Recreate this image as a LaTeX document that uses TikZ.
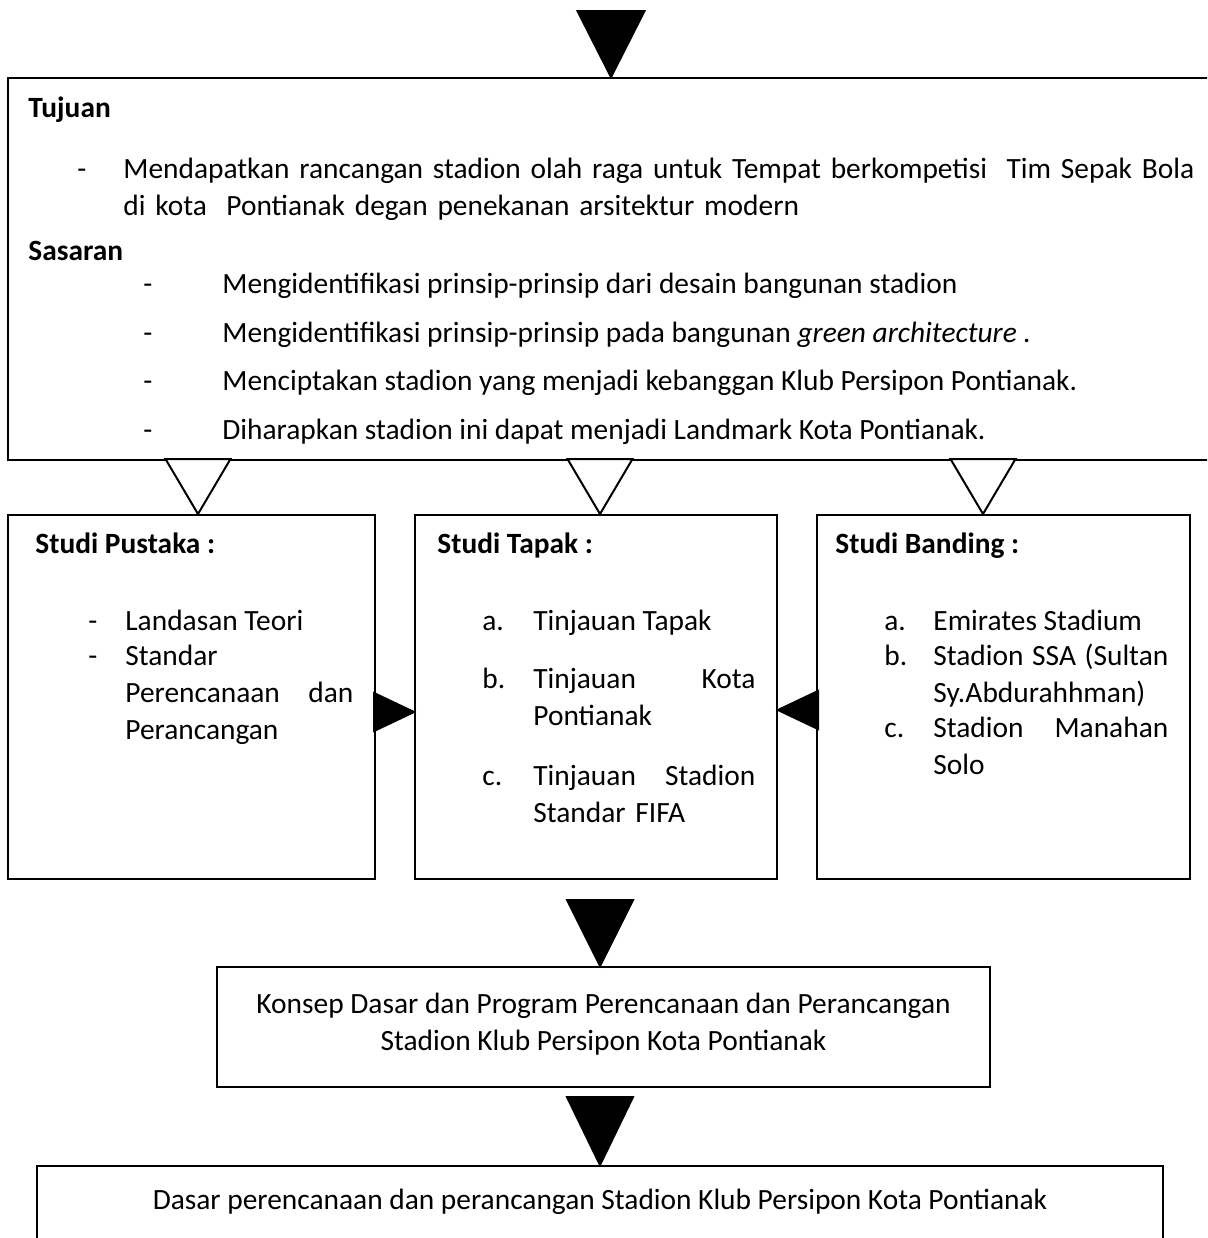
\documentclass[tikz,border=0pt]{standalone}
\usepackage{fontspec}
\setmainfont{Carlito}
\usetikzlibrary{positioning,fit,calc}
\newcommand{\bodyfont}{\fontsize{14.7pt}{18.5pt}\selectfont}
\tikzset{
  box/.style={draw, line width=1pt, inner sep=0pt},
  txt/.style={anchor=base west, inner sep=0pt, font=\bodyfont},
  headtxt/.style={txt, font=\bodyfont\bfseries},
  itemtext/.style={txt, text width=#1, align=left},
  head/.style={fill=black, draw=black, line width=1pt, line join=miter},
  hollow/.style={draw=black, fill=white, line width=1pt, line join=miter},
}

\begin{document}
\begin{tikzpicture}[x=0.5pt, y=-0.5pt]
  \useasboundingbox (0,0) rectangle (1207,1238);
  \clip (0,0) rectangle (1207,1238);
  % boxes
  \node[box, fit={(8,78) (1214,460)}] (tujuan) {};
  \node[box, fit={(8,515) (375,879)}] (pustaka) {};
  \node[box, fit={(415,515) (777,879)}] (tapak) {};
  \node[box, fit={(817,515) (1190,879)}] (banding) {};
  \node[box, fit={(217,967) (990,1087)}] (konsep) {};
  \node[box, fit={(37,1166) (1163,1300)}] (dasar) {};

  % tujuan dan sasaran
  \node[headtxt] (tujuanlbl) at (28,117) {Tujuan};
  \node[txt] (tdash) at (77,178) {-};
  \node[itemtext=530pt] (tjtext) at (123,178) {\makebox[530pt][s]{Mendapatkan rancangan stadion olah raga untuk Tempat berkompetisi\ \ Tim Sepak Bola}\\ di kota\ \ Pontianak degan penekanan arsitektur modern};
  \node[headtxt] (sasaranlbl) at (28,260) {Sasaran};
  \node[txt] (sdash1) at (143,293) {-};
  \node[txt] (sas1) at (222,293) {Mengidentifikasi prinsip-prinsip dari desain bangunan stadion};
  \node[txt] (sdash2) at (143,342) {-};
  \node[txt] (sas2) at (222,342) {Mengidentifikasi prinsip-prinsip pada bangunan \textit{green architecture .}};
  \node[txt] (sdash3) at (143,390) {-};
  \node[txt] (sas3) at (222,390) {Menciptakan stadion yang menjadi kebanggan Klub Persipon Pontianak.};
  \node[txt] (sdash4) at (143,439) {-};
  \node[txt] (sas4) at (222,439) {Diharapkan stadion ini dapat menjadi Landmark Kota Pontianak.};

  % studi pustaka
  \node[headtxt] (pustakalbl) at (35,553) {Studi Pustaka :};
  \node[txt] (pdash1) at (88,630) {-};
  \node[txt] (pus1) at (125,630) {Landasan Teori};
  \node[txt] (pdash2) at (88,665) {-};
  \node[itemtext=114pt] (pus2) at (125,665) {Standar\\ Perencanaan\hfill dan\\ Perancangan};

  % studi tapak
  \node[headtxt] (tapaklbl) at (437,553) {Studi Tapak :};
  \node[txt] (ta) at (482,630) {a.};
  \node[txt] (tap1) at (533,630) {Tinjauan Tapak};
  \node[txt] (tb) at (482,688) {b.};
  \node[itemtext=111pt] (tap2) at (533,688) {Tinjauan\hfill Kota\\ Pontianak};
  \node[txt] (tc) at (482,785) {c.};
  \node[itemtext=111pt] (tap3) at (533,785) {Tinjauan\hfill Stadion\\ Standar FIFA};

  % studi banding
  \node[headtxt] (bandinglbl) at (835,553) {Studi Banding :};
  \node[txt] (ba) at (884,630) {a.};
  \node[txt] (ban1) at (933,630) {Emirates Stadium};
  \node[txt] (bb) at (884,665) {b.};
  \node[itemtext=117.5pt] (ban2) at (933,665) {Stadion\hfill SSA\hfill (Sultan\\ Sy.Abdurahhman)};
  \node[txt] (bc) at (884,737) {c.};
  \node[itemtext=117.5pt] (ban3) at (933,737) {Stadion\hfill Manahan\\ Solo};

  % konsep dan dasar
  \node[txt, anchor=base] (konsep1) at (603.5,1013) {Konsep Dasar dan Program Perencanaan dan Perancangan};
  \node[txt, anchor=base] (konsep2) at (603.5,1050) {Stadion Klub Persipon Kota Pontianak};
  \node[txt, anchor=base] (dasartxt) at (600,1209) {Dasar perencanaan dan perancangan Stadion Klub Persipon Kota Pontianak};

  % arrow heads
  \filldraw[head] (tujuan.north) -- ++(-33.5,-66) -- ++(67,0) -- cycle;
  \filldraw[hollow] ($(pustaka.north)+(6.5,0)$) -- ++(-32.5,-55) -- ++(65,0) -- cycle;
  \filldraw[hollow] ($(tapak.north)+(4,0)$) -- ++(-32.5,-55) -- ++(65,0) -- cycle;
  \filldraw[hollow] ($(banding.north)+(-20.5,0)$) -- ++(-32.5,-55) -- ++(65,0) -- cycle;
  \filldraw[head] ($(tapak.west)+(0,15)$) -- ++(-40,-19) -- ++(0,38) -- cycle;
  \filldraw[head] ($(tapak.east)+(0,13)$) -- ++(40,-19) -- ++(0,38) -- cycle;
  \filldraw[head] ($(konsep.north)+(-3.5,0)$) -- ++(-33,-66) -- ++(66,0) -- cycle;
  \filldraw[head] (dasar.north) -- ++(-33,-68) -- ++(66,0) -- cycle;
\end{tikzpicture}
\end{document}
